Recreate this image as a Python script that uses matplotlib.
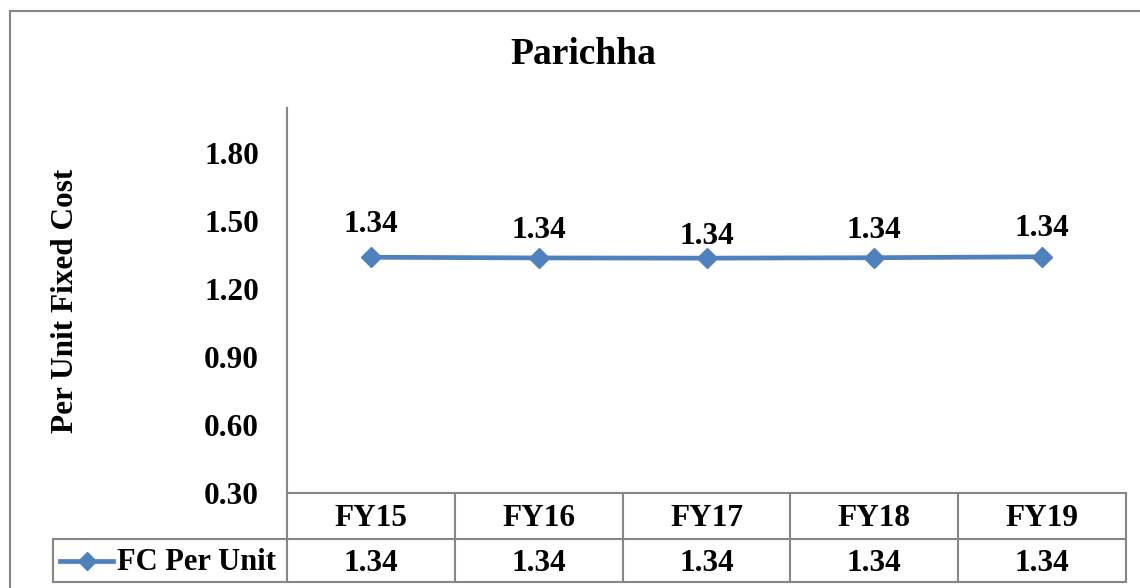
import matplotlib
matplotlib.use("Agg")
import matplotlib.pyplot as plt
from matplotlib.lines import Line2D
from matplotlib.transforms import blended_transform_factory

# ---- data ----
categories = ["FY15", "FY16", "FY17", "FY18", "FY19"]
fc_per_unit = [1.341, 1.338, 1.337, 1.339, 1.343]
series_name = "FC Per Unit"
table_labels = ["1.34", "1.34", "1.34", "1.34", "1.34"]
y_ticks = [0.30, 0.60, 0.90, 1.20, 1.50, 1.80]
title = "Parichha"
y_label = "Per Unit Fixed Cost"

# label offsets (points) above marker, mimicking reference placement
label_offsets = [23.5, 19.5, 15.5, 19.5, 20.5]

W, H = 1140, 588
DPI = 100
plt.rcParams['font.family'] = ['Liberation Serif', 'DejaVu Serif']
plt.rcParams['font.weight'] = 'bold'

fig = plt.figure(figsize=(W / DPI, H / DPI), dpi=DPI)
fig.patch.set_facecolor("white")

# axes placement in pixels
L, R, T, B = 287, 1126, 108, 493
ax = fig.add_axes([L / W, 1 - B / H, (R - L) / W, (B - T) / H])

blue = "#4F81BD"
grey = "#868686"

x = list(range(len(categories)))
ax.plot(x, fc_per_unit, color=blue, lw=3.4, marker="D", ms=10,
        markeredgecolor=blue, zorder=3, solid_capstyle="butt")

for xi, v, lab, off in zip(x, fc_per_unit, table_labels, label_offsets):
    ax.annotate(lab, (xi, v), xytext=(0, off), textcoords="offset points",
                ha="center", va="center", fontsize=22.5, fontweight="bold")

ax.set_xlim(-0.5, len(categories) - 0.5)
ax.set_ylim(0.30, 2.0)
ax.set_yticks(y_ticks)
ax.set_yticklabels([f"{t:.2f}" for t in y_ticks], fontsize=22.5, fontweight="bold",
                   va="center_baseline")
ax.tick_params(axis="y", length=0, pad=20)
ax.set_xticks([])
for s in ["top", "right", "bottom"]:
    ax.spines[s].set_visible(False)
ax.spines["left"].set_color(grey)
ax.spines["left"].set_linewidth(1.5)

ax.set_ylabel(y_label, fontsize=22.5, fontweight="bold", labelpad=0)
ax.yaxis.set_label_coords((80 - L) / (R - L), 0.5)

fig.text(583 / W, 1 - 55 / H, title, ha="center", va="center",
         fontsize=27, fontweight="bold")

# ---- data table ----
def fx(px):
    return px / W

def fy(py):
    return 1 - py / H

row_top, row_mid, row_bot = 493, 539, 582
leg_left = 53
col_w = (R - L) / len(categories)
lw_t = 1.5
# horizontal lines
fig.add_artist(Line2D([fx(L), fx(R)], [fy(row_top)] * 2, color=grey, lw=lw_t))
fig.add_artist(Line2D([fx(leg_left), fx(R)], [fy(row_mid)] * 2, color=grey, lw=lw_t))
fig.add_artist(Line2D([fx(leg_left), fx(R)], [fy(row_bot)] * 2, color=grey, lw=lw_t))
# vertical lines
fig.add_artist(Line2D([fx(leg_left)] * 2, [fy(row_mid), fy(row_bot)], color=grey, lw=lw_t))
for i in range(len(categories) + 1):
    xp = L + i * col_w
    fig.add_artist(Line2D([fx(xp)] * 2, [fy(row_top), fy(row_bot)], color=grey, lw=lw_t))

trans = blended_transform_factory(ax.transData, fig.transFigure)
for xi, cat, lab in zip(x, categories, table_labels):
    fig.text(xi, fy((row_top + row_mid) / 2 + 3), cat, transform=trans,
             ha="center", va="center", fontsize=22.5, fontweight="bold")
    fig.text(xi, fy((row_mid + row_bot) / 2 + 3), lab, transform=trans,
             ha="center", va="center", fontsize=22.5, fontweight="bold")

# legend key in table
fig.add_artist(Line2D([fx(60), fx(113)], [fy(561)] * 2, color=blue, lw=3.4))
fig.add_artist(Line2D([fx(87)], [fy(561)], color=blue, marker="D", ms=9.5,
                      markeredgecolor=blue))
fig.text(fx(117), fy(563), series_name, ha="left", va="center",
         fontsize=22, fontweight="bold")

# outer chart border
fig.add_artist(Line2D([fx(10), fx(10)], [fy(11), fy(H + 5)], color=grey, lw=1.5))
fig.add_artist(Line2D([fx(10), fx(W + 5)], [fy(11), fy(11)], color=grey, lw=1.5))

fig.savefig("out.png", dpi=DPI)
